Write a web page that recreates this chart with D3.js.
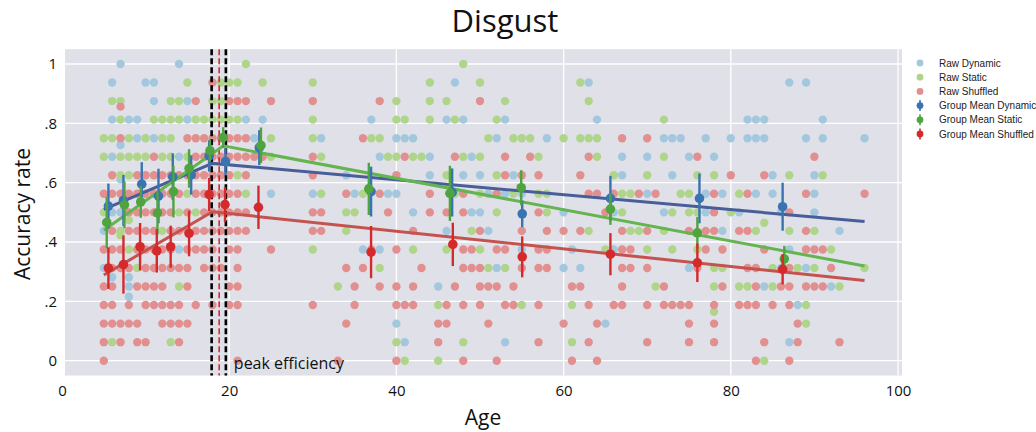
<!DOCTYPE html>
<html><head><meta charset="utf-8">
<script src="https://cdn.jsdelivr.net/npm/d3@7"></script>
<style>html,body{margin:0;padding:0;background:#fff;}svg{display:block;}</style>
</head><body>
<svg id="chart" width="1036" height="432"></svg>
<script>
// ---------- data ----------
const TRIALS = 16;
// rows: [number correct out of 16, [ages]]
const rawDynamicRows = [
  [16,[7,14]],
  [15,[6,10,11,47,63,87,89]],
  [14,[11,15]],
  [13,[6,8,9,15,22,24,37,46,48,53,64,82,83,84,91]],
  [12,[9,11,23,31,40,41,42,52,58,72,73,74,77,80,82,83,84,89,91,96]],
  [11.63,[7]],
  [11,[6,14,38,44,49,67,70,75,78]],
  [10,[34,44,48,50,54,67,73,85,90]],
  [9.78,[7]],
  [9,[25,30,35,39,40,51,53,55,70,77,79,83,85,90]],
  [8,[6,7,42,49,50,60,66,72,77,81,86,90]],
  [7,[5,46,51,79,93]],
  [6,[14,36,38,55,61,66,87]],
  [5,[5,52,60,62,75,86,89]],
  [4.5,[6,8]],
  [4,[8,45,84,92]],
  [3.45,[8]],
  [3,[88]],
  [2,[40,65]],
  [1,[41,53,87]]
];
const rawStaticRows = [
  [16,[22,48]],
  [15,[15,19,20,21,24,30,44,50,62]],
  [14,[6,7,13,14,18,19,40,44,46,53,63]],
  [13,[7,11,12,13,14,16,17,18,19,20,21,30,40,41,44,47,52,72]],
  [12,[5,6,8,10,12,13,25,30,37,38,51,54,55,56,60,62,63,64]],
  [11,[5,7,8,9,10,12,13,15,25,31,39,40,42,43,48,50,57,64,72]],
  [10,[7,8,21,46,52,66,70,76,78,87,91]],
  [9,[15,22,31,36,47,50,54,57,58,67,68,74,75,81]],
  [8,[5,14,16,34,35,52,58,67,73,75,76,80]],
  [7.58,[8]],
  [7.44,[84]],
  [7,[7,12,34,49,63,68,69,72,83,87,90]],
  [6.77,[7]],
  [6,[8,30,42,46,50,65,70,73,76,92]],
  [5,[9,38,51,53,78,79,85,88,90,96]],
  [4,[14,33,71,78,81,82,85,93]],
  [3,[45,55,61,89]],
  [2.64,[78]],
  [2,[89]],
  [1,[6,13,40,48,61]],
  [0,[41,45,84]]
];
const rawShuffledRows = [
  [15,[18]],
  [14,[16,20,21,22,25,30,38,50]],
  [13.7,[7]],
  [12,[7,15,16,17,18,19,20,21,22,36,67,70]],
  [11,[11,16,17,18,19,20,21,22,23,24,30,41,47,53,56,63,76,90]],
  [10,[6,9,10,11,12,13,14,15,16,17,18,19,20,22,30,40,53,55,57,62,80,84]],
  [9,[5,6,7,8,9,10,11,12,13,14,16,17,18,19,20,21,34,38,44,48,52,63,64,66,69,71,78,82,89,96]],
  [8,[8,9,10,11,12,13,15,17,18,19,20,21,22,30,31,39,44,46,48,57,65,78,87]],
  [7,[6,8,9,10,11,13,14,15,16,17,18,19,20,21,22,30,31,42,50,55,58,60,62,67,70,75,77,78,81,82,89]],
  [6,[5,6,7,9,10,11,12,13,15,16,17,18,20,21,25,37,40,48,49,52,53,57,58,67,68,77,79,84,89,90,91]],
  [5,[6,7,8,10,11,12,13,14,15,17,18,19,21,34,36,43,48,49,50,55,57,58,67,68,70,76,82,83,87,92]],
  [4,[5,6,9,10,11,12,15,20,21,35,38,40,42,47,50,51,52,54,61,62,67,72,79,83,86,87,89,90,91]],
  [3,[5,6,8,10,11,12,13,14,16,18,20,21,30,35,40,41,42,46,48,50,53,54,57,63,66,67,70,72,73,74,75,78,81,82,83,85,87]],
  [2,[5,6,7,8,9,12,13,14,15,34,45,46,51,60,64,75,78,88]],
  [1,[5,7,9,10,14,45,57,63,70,75,78,84,88,93]],
  [0,[5,21,33,40,48,52,61,64,83,87]]
];
// group means: [age, mean accuracy, error half-width]
const meanDynamic = [[5.55,0.521,0.076],[7.35,0.540,0.086],[9.54,0.595,0.074],[11.54,0.555,0.092],[13.25,0.620,0.079],[15.45,0.626,0.066],[17.6,0.690,0.053],[19.56,0.671,0.045],[23.6,0.718,0.059],[36.97,0.570,0.084],[46.67,0.567,0.081],[55.05,0.495,0.045],[65.6,0.547,0.076],[76.25,0.547,0.084],[86.2,0.519,0.081]];
const meanStatic = [[5.35,0.466,0.087],[7.47,0.525,0.079],[9.42,0.535,0.053],[11.42,0.498,0.073],[13.33,0.570,0.087],[15.2,0.648,0.065],[17.7,0.708,0.037],[19.28,0.752,0.035],[23.8,0.726,0.060],[36.7,0.579,0.088],[46.4,0.564,0.093],[54.93,0.583,0.059],[65.6,0.511,0.053],[76.0,0.431,0.053],[86.4,0.343,0.044]];
const meanShuffled = [[5.55,0.312,0.070],[7.35,0.324,0.098],[9.34,0.384,0.080],[11.34,0.370,0.073],[13.0,0.384,0.071],[15.2,0.429,0.077],[17.6,0.560,0.056],[19.5,0.526,0.059],[23.5,0.517,0.073],[36.97,0.366,0.088],[46.75,0.392,0.073],[55.05,0.350,0.069],[65.6,0.359,0.071],[76.0,0.330,0.065],[86.2,0.308,0.051]];
// piecewise fits: [age, accuracy]
const fitDynamic = [[5,0.51],[18,0.665],[96,0.469]];
const fitStatic = [[5,0.44],[19.3,0.724],[96,0.319]];
const fitShuffled = [[5,0.289],[18,0.502],[96,0.27]];
const peakAge = 18.8;
const peakCI = [17.9, 19.6];
const xTicks = [0,20,40,60,80,100];
const yTicks = [0,0.2,0.4,0.6,0.8,1];
const yTickLabels = ["0",".2",".4",".6",".8","1"];
const legendLabels = ["Raw Dynamic","Raw Static","Raw Shuffled","Group Mean Dynamic","Group Mean Static","Group Mean Shuffled"];

// ---------- styles ----------
const rawColors = {dyn:"#a3c8de", sta:"#afd58b", shu:"#e28f8f"};
const meanColors = {dyn:"#3a73b2", sta:"#50a43f", shu:"#d42a2c"};
const lineColors = {dyn:"#485e98", sta:"#64b450", shu:"#c4534f"};
const FONT = "'Open Sans', 'Liberation Sans', sans-serif";

const svg = d3.select("#chart");
const x = d3.scaleLinear().domain([0,100]).range([62,898]);
const y = d3.scaleLinear().domain([0,1]).range([360.7,64]);
const plotL = x(0.36), plotR = x(100.48), plotT = y(1.05), plotB = y(-0.05);

svg.append("rect").attr("x",plotL).attr("y",plotT).attr("width",plotR-plotL).attr("height",plotB-plotT).attr("fill","#e0e0e9");

// grid
svg.append("g").selectAll("line").data(xTicks.filter(d=>d>0)).join("line")
  .attr("x1",d=>x(d)).attr("x2",d=>x(d)).attr("y1",plotT).attr("y2",plotB)
  .attr("stroke","#fff").attr("stroke-width",1.3);
svg.append("g").selectAll("line").data(yTicks).join("line")
  .attr("x1",plotL).attr("x2",plotR).attr("y1",d=>y(d)).attr("y2",d=>y(d))
  .attr("stroke","#fff").attr("stroke-width",1.3);

// axes (labels only)
const xAxis = d3.axisBottom(x).tickValues(xTicks).tickSize(0).tickPadding(0).tickFormat(d3.format("d"));
const gx = svg.append("g").attr("transform",`translate(0,${plotB+10})`).call(xAxis);
gx.select(".domain").remove();
gx.selectAll("text").attr("font-family",FONT).attr("font-size",15).attr("fill","#111");
const yAxis = d3.axisLeft(y).tickValues(yTicks).tickSize(0).tickPadding(0).tickFormat((d,i)=>yTickLabels[i]);
const gy = svg.append("g").attr("transform",`translate(${57},0)`).call(yAxis);
gy.select(".domain").remove();
gy.selectAll("text").attr("font-family",FONT).attr("font-size",15).attr("fill","#111");

// raw points
function flatten(rows){ const out=[]; rows.forEach(([c,ages])=>ages.forEach(a=>out.push([a,c/TRIALS]))); return out; }
const rawSets = [["dyn",rawDynamicRows],["sta",rawStaticRows],["shu",rawShuffledRows]];
rawSets.forEach(([k,rows])=>{
  svg.append("g").selectAll("circle").data(flatten(rows)).join("circle")
    .attr("cx",d=>x(d[0])).attr("cy",d=>y(d[1])).attr("r",4.2).attr("fill",rawColors[k]);
});

// peak lines
const dash = svg.append("g");
peakCI.forEach(a=>dash.append("line").attr("x1",x(a)).attr("x2",x(a)).attr("y1",plotT).attr("y2",plotB)
  .attr("stroke","#000").attr("stroke-width",2.6).attr("stroke-dasharray","6,3"));
dash.append("line").attr("x1",x(peakAge)).attr("x2",x(peakAge)).attr("y1",plotT).attr("y2",plotB)
  .attr("stroke","#d42a2c").attr("stroke-width",1.6).attr("stroke-dasharray","6,3");
svg.append("text").attr("x",x(peakCI[1])+8).attr("y",369).text("peak efficiency")
  .attr("font-family",FONT).attr("font-size",16).attr("fill","#111");

// fit lines
const line = d3.line().x(d=>x(d[0])).y(d=>y(d[1]));
[["dyn",fitDynamic],["sta",fitStatic],["shu",fitShuffled]].forEach(([k,data])=>{
  svg.append("path").datum(data).attr("d",line).attr("fill","none")
    .attr("stroke",lineColors[k]).attr("stroke-width",3);
});

// means with error bars
[["dyn",meanDynamic],["sta",meanStatic],["shu",meanShuffled]].forEach(([k,data])=>{
  const g = svg.append("g");
  g.selectAll("line").data(data).join("line")
    .attr("x1",d=>x(d[0])).attr("x2",d=>x(d[0])).attr("y1",d=>y(d[1]-d[2])).attr("y2",d=>y(d[1]+d[2]))
    .attr("stroke",meanColors[k]).attr("stroke-width",2.4);
  g.selectAll("circle").data(data).join("circle")
    .attr("cx",d=>x(d[0])).attr("cy",d=>y(d[1])).attr("r",4.8).attr("fill",meanColors[k]);
});

// labels
svg.append("text").attr("x",505).attr("y",32).attr("text-anchor","middle").text("Disgust")
  .attr("font-family",FONT).attr("font-size",31).attr("fill","#111");
svg.append("text").attr("x",483).attr("y",425).attr("text-anchor","middle").text("Age")
  .attr("font-family",FONT).attr("font-size",21).attr("fill","#111");
svg.append("text").attr("transform","translate(30,214) rotate(-90)").attr("text-anchor","middle").text("Accuracy rate")
  .attr("font-family",FONT).attr("font-size",21).attr("fill","#111");

// legend
const legKeys = ["dyn","sta","shu"];
const lg = svg.append("g");
legendLabels.forEach((lab,i)=>{
  const yy = 63 + i*14.2;
  const k = legKeys[i%3];
  if(i<3){
    lg.append("circle").attr("cx",920).attr("cy",yy).attr("r",3.4).attr("fill",rawColors[k]);
  } else {
    lg.append("line").attr("x1",920).attr("x2",920).attr("y1",yy-5.5).attr("y2",yy+5.5).attr("stroke",meanColors[k]).attr("stroke-width",1.6);
    lg.append("circle").attr("cx",920).attr("cy",yy).attr("r",3.4).attr("fill",meanColors[k]);
  }
  lg.append("text").attr("x",939).attr("y",yy+3.6).text(lab)
    .attr("font-family","'Liberation Sans', Arial, sans-serif").attr("font-size",10).attr("fill","#222");
});
</script>
</body></html>
